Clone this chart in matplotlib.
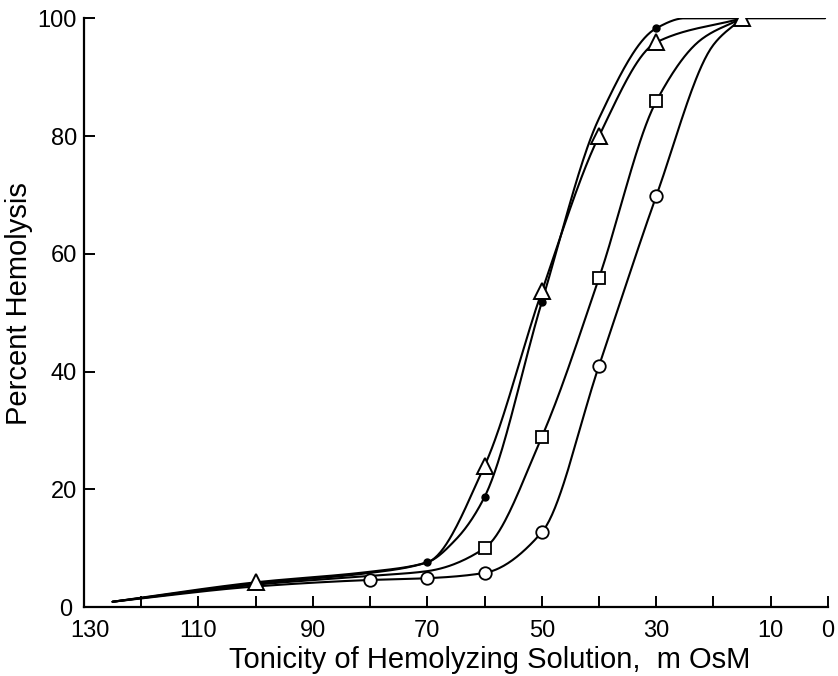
import matplotlib
matplotlib.use("Agg")
import matplotlib.pyplot as plt
import matplotlib.transforms as mtransforms
import numpy as np

# marker values (x = tonicity mOsM, y = percent hemolysis)
tri_x = [100, 60, 50, 40, 30, 15]
tri_y = [4.2, 24, 53.6, 80, 95.9, 100]
dot_x = [70, 60, 50, 30]
dot_y = [7.6, 18.7, 51.8, 98.3]
sq_x = [60, 50, 40, 30]
sq_y = [10.0, 28.9, 55.9, 85.9]
circ_x = [80, 70, 60, 50, 40, 30]
circ_y = [4.6, 4.9, 5.8, 12.7, 41, 69.8]

# points along each hand drawn curve (markers plus guide points)
tri_curve_x = [125, 100, 80, 70, 60, 50, 40, 30, 15]
tri_curve_y = [0.9, 4.2, 6.0, 7.6, 24, 53.6, 80, 95.9, 100]
dot_curve_x = [125, 100, 80, 70, 65, 60, 50, 40, 30, 25, 0.5]
dot_curve_y = [0.9, 4.0, 5.8, 7.6, 11.5, 18.7, 51.8, 83, 98.3, 100, 100]
sq_curve_x = [125, 100, 80, 70, 60, 50, 40, 30, 22, 15]
sq_curve_y = [0.9, 3.8, 5.3, 6.1, 10.0, 28.9, 55.9, 85.9, 96.5, 100]
circ_curve_x = [125, 100, 80, 70, 60, 50, 40, 30, 20, 15]
circ_curve_y = [0.9, 3.5, 4.6, 4.9, 5.8, 12.7, 41, 69.8, 95.5, 100]

x_ticks = list(range(130, -1, -10))
x_labels = {130: "130", 110: "110", 90: "90", 70: "70", 50: "50", 30: "30", 10: "10", 0: "0"}
y_ticks = [0, 20, 40, 60, 80, 100]


def pchip(xk, yk):
    """monotone cubic (Fritsch-Carlson) through the knots, for smooth hand-drawn look"""
    xk = np.asarray(xk, float)[::-1]
    yk = np.asarray(yk, float)[::-1]
    h = np.diff(xk)
    d = np.diff(yk) / h
    m = np.zeros_like(xk)
    for i in range(1, len(xk) - 1):
        if d[i - 1] * d[i] > 0:
            w1 = 2 * h[i] + h[i - 1]
            w2 = h[i] + 2 * h[i - 1]
            m[i] = (w1 + w2) / (w1 / d[i - 1] + w2 / d[i])
    m[0] = d[0]
    m[-1] = d[-1] if d[-1] * d[-2] > 0 else 0
    xs, ys = [], []
    for i in range(len(h)):
        t = np.linspace(0, 1, 40)
        h00 = 2 * t**3 - 3 * t**2 + 1
        h10 = t**3 - 2 * t**2 + t
        h01 = -2 * t**3 + 3 * t**2
        h11 = t**3 - t**2
        xs.append(xk[i] + t * h[i])
        ys.append(h00 * yk[i] + h10 * h[i] * m[i] + h01 * yk[i + 1] + h11 * h[i] * m[i + 1])
    return np.concatenate(xs), np.concatenate(ys)


plt.rcParams["font.family"] = "Liberation Sans"

fig = plt.figure(figsize=(8.38, 6.76), dpi=100)
ax = fig.add_axes([0.1002, 0.102, 0.8878, 0.871])

for cx, cy in [(tri_curve_x, tri_curve_y), (dot_curve_x, dot_curve_y),
               (sq_curve_x, sq_curve_y), (circ_curve_x, circ_curve_y)]:
    sx, sy = pchip(cx, cy)
    ax.plot(sx, sy, color="black", lw=1.5, solid_capstyle="round", zorder=2)

ax.plot(tri_x, tri_y, ls="none", marker="^", ms=12, mfc="white", mec="black", mew=1.4, zorder=3)
ax.plot(dot_x, dot_y, ls="none", marker="o", ms=5, mfc="black", mec="black", zorder=3)
ax.plot(sq_x, sq_y, ls="none", marker="s", ms=8, mfc="white", mec="black", mew=1.3, zorder=3)
ax.plot(circ_x, circ_y, ls="none", marker="o", ms=9, mfc="white", mec="black", mew=1.3, zorder=3)

ax.set_xlim(130, 0)
ax.set_ylim(0, 100)
ax.spines["top"].set_visible(False)
ax.spines["right"].set_visible(False)
ax.spines["left"].set_linewidth(1.6)
ax.spines["bottom"].set_linewidth(1.6)

ax.set_xticks(x_ticks)
ax.set_xticklabels([x_labels.get(t, "") for t in x_ticks])
ax.set_yticks(y_ticks)
ax.tick_params(direction="in", length=8, width=1.4, labelsize=17)
ax.tick_params(axis="y", pad=5)
ax.tick_params(axis="x", pad=9)

# the corner labels sit a little apart, like "0" and "130" in the original
fig.canvas.draw()
ax.get_xticklabels()[0].set_transform(
    ax.get_xticklabels()[0].get_transform() + mtransforms.ScaledTranslation(6 / 100, 0, fig.dpi_scale_trans))
ax.get_yticklabels()[0].set_transform(
    ax.get_yticklabels()[0].get_transform() + mtransforms.ScaledTranslation(-5 / 100, 0, fig.dpi_scale_trans))

ax.set_xlabel("Tonicity of Hemolyzing Solution,  m OsM", fontsize=21)
ax.set_ylabel("Percent Hemolysis", fontsize=21)
ax.xaxis.set_label_coords(0.546, -0.066)
ax.yaxis.set_label_coords(-0.068, 0.516)

fig.savefig("out.png", dpi=100)
